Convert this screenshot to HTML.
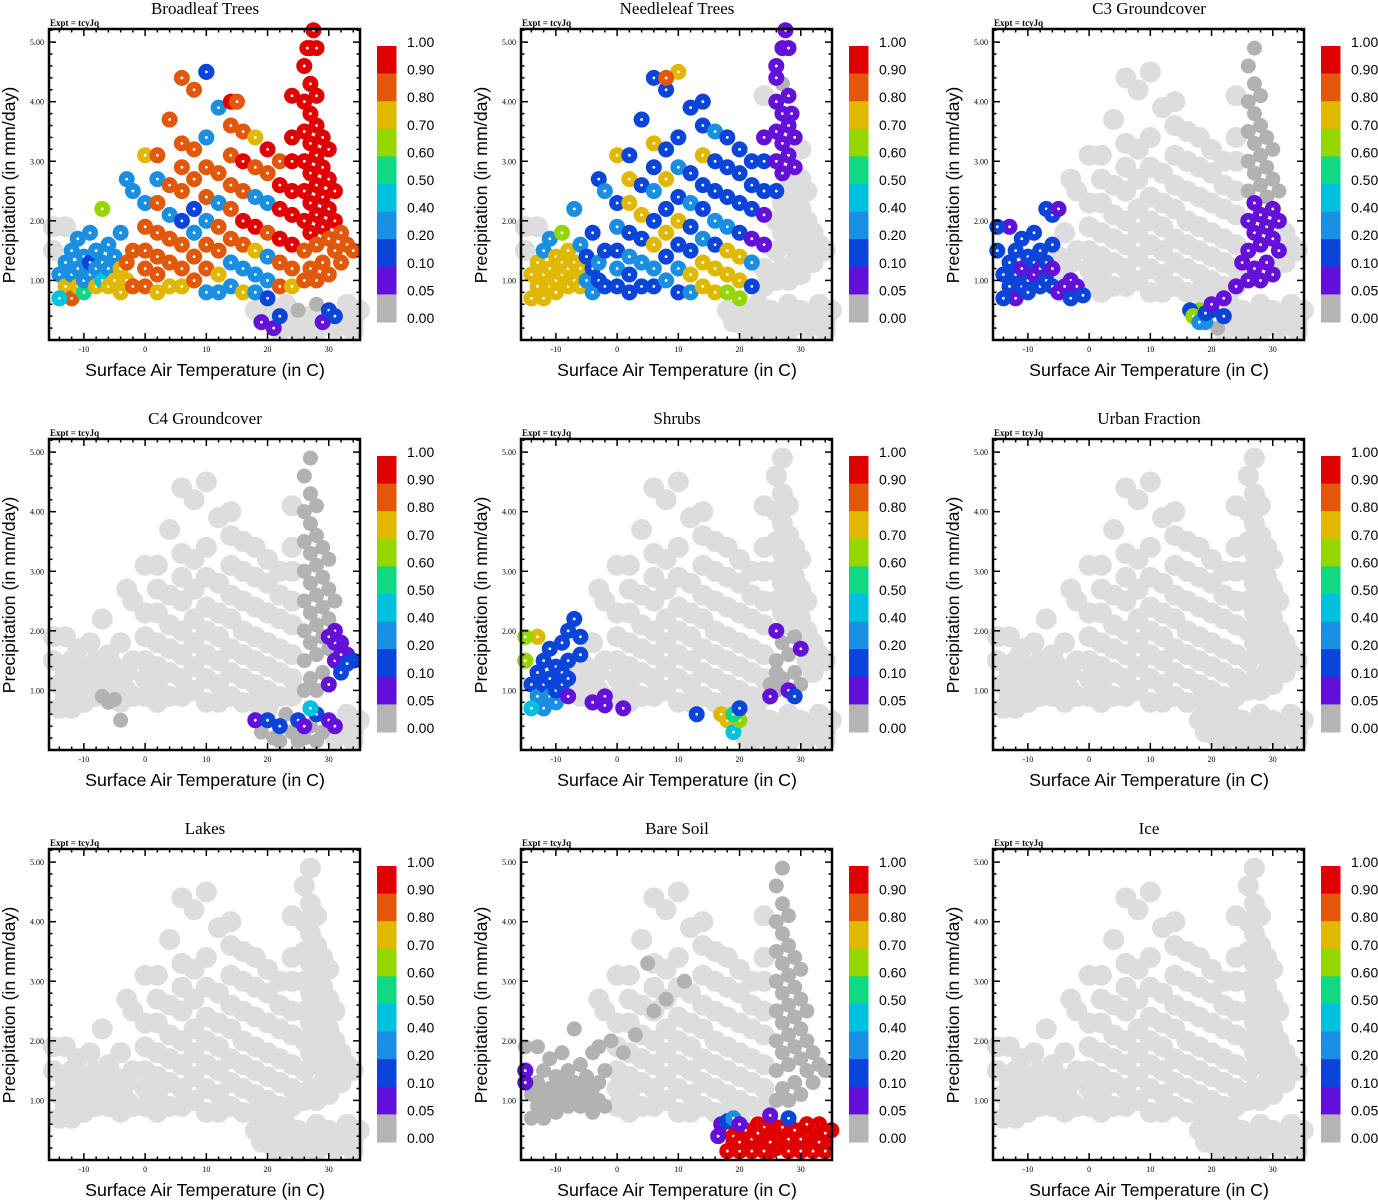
<!DOCTYPE html>
<html><head><meta charset="utf-8"><style>
html,body{margin:0;padding:0;background:#fff;}
svg{display:block;}
.ttl{font-family:"Liberation Serif",serif;font-size:17px;}
.expt{font-family:"Liberation Serif",serif;font-size:9px;font-weight:bold;}
.tick{font-family:"Liberation Serif",serif;font-size:8px;}
.ax{font-family:"Liberation Sans",sans-serif;font-size:17.8px;}
.cb{font-family:"Liberation Sans",sans-serif;font-size:14px;}
</style></head><body>
<svg id="fig" width="1378" height="1200" xmlns="http://www.w3.org/2000/svg"></svg>
<script>
// ---- shared point locations (temperature C, precipitation mm/day) ----
const coldPts=[[-14,1.1],[-13,0.9],[-13,1.3],[-12,0.7],[-12,1.1],[-12,1.5],[-11,0.9],[-11,1.2],[-11,1.7],[-10,0.8],[-10,1.0],[-10,1.4],[-9,1.1],[-9,1.3],[-9,1.8],[-8,0.9],[-8,1.2],[-8,1.5],[-7,1.0],[-7,1.3],[-7,2.2],[-6,0.9],[-6,1.2],[-6,1.6],[-5,1.0],[-5,1.4],[-4,0.8],[-4,1.2],[-4,1.8],[-3,1.0],[-3,1.3],[-3,2.7],[-2,0.9],[-2,1.5],[-2,2.5],[-15,1.5],[-14,0.7],[-13,1.9],[-15,1.9]];
const warmPts=[[0,0.9],[0,1.2],[0,1.5],[0,1.9],[0,2.3],[0,3.1],
[2,0.8],[2,1.1],[2,1.4],[2,1.8],[2,2.3],[2,2.7],[2,3.1],
[4,0.9],[4,1.3],[4,1.7],[4,2.1],[4,2.6],[4,3.7],
[6,0.9],[6,1.2],[6,1.6],[6,2.0],[6,2.5],[6,2.9],[6,3.3],[6,4.4],
[8,1.0],[8,1.4],[8,1.8],[8,2.2],[8,2.7],[8,3.2],[8,4.2],
[10,0.8],[10,1.2],[10,1.6],[10,2.0],[10,2.4],[10,2.9],[10,3.4],[10,4.5],
[12,0.8],[12,1.1],[12,1.5],[12,1.9],[12,2.3],[12,2.8],[12,3.9],
[14,0.9],[14,1.3],[14,1.7],[14,2.2],[14,2.6],[14,3.1],[14,3.6],[14,4.0],
[16,0.8],[16,1.2],[16,1.6],[16,2.0],[16,2.5],[16,3.0],[16,3.5],
[18,0.8],[18,1.1],[18,1.5],[18,1.9],[18,2.4],[18,2.9],[18,3.4],
[20,0.7],[20,1.0],[20,1.4],[20,1.8],[20,2.3],[20,2.8],[20,3.2],
[22,0.9],[22,1.3],[22,1.7],[22,2.2],[22,2.6],[22,3.0],
[24,0.9],[24,1.2],[24,1.6],[24,2.1],[24,2.5],[24,3.0],[24,3.4],[24,4.1]];
const spikePts=[[26,1.0],[26,1.5],[26,2.0],[26,2.5],[26,3.0],[26,3.5],[26,4.0],[26,4.6],[27,1.2],[27,1.8],[27,2.3],[27,2.8],[27,3.3],[27,3.8],[27,4.3],[27,4.9],[28,1.0],[28,1.6],[28,2.1],[28,2.6],[28,3.1],[28,3.6],[28,4.1],[29,1.3],[29,1.9],[29,2.4],[29,2.9],[29,3.4],[30,1.1],[30,1.7],[30,2.2],[30,2.7],[30,3.2],[31,1.5],[31,2.0],[31,2.5],[32,1.3],[32,1.8],[33,1.6],[34,1.5]];
const bottomPts=[[18,0.5],[19,0.3],[20,0.5],[21,0.2],[22,0.4],[23,0.6],[24,0.3],[25,0.5],[26,0.2],[27,0.4],[28,0.6],[29,0.3],[30,0.5],[31,0.2],[32,0.4],[33,0.6],[34,0.3],[35,0.5],[22,0.15],[25,0.15],[28,0.15],[31,0.4],[34,0.15]];

// ---- per-panel fraction values (-1 = no data / light grey) ----
const broadleafCold=[0.3,0.75,0.3,0.85,0.3,0.3,0.75,0.3,0.3,0.5,0.3,0.3,0.3,0.15,0.3,0.75,0.3,0.3,0.45,0.3,0.65,0.75,0.3,0.3,0.75,0.3,0.75,0.75,0.3,0.75,0.85,0.3,0.85,0.85,0.3,-1,0.45,-1,-1];
const broadleafWarm=[0.85,0.85,0.85,0.85,0.3,0.75, 0.75,0.85,0.85,0.85,0.85,0.3,0.85, 0.75,0.85,0.85,0.3,0.85,0.85, 0.75,0.85,0.85,0.15,0.85,0.85,0.85,0.85, 0.85,0.85,0.3,0.15,0.85,0.85,0.85, 0.3,0.85,0.85,0.3,0.85,0.85,0.3,0.15, 0.3,0.75,0.85,0.85,0.3,0.85,0.3, 0.3,0.3,0.85,0.85,0.85,0.85,0.85,0.95, 0.75,0.3,0.85,0.95,0.85,0.95,0.85, 0.3,0.3,0.75,0.95,0.3,0.85,0.75, 0.15,0.3,0.3,0.85,0.3,0.85,0.95, 0.85,0.85,0.95,0.95,0.95,0.85, 0.75,0.85,0.95,0.95,0.95,0.95,0.95,0.95];
const broadleafSpike=[0.85,0.85,0.95,0.95,0.95,0.95,0.95,0.95,0.85,0.95,0.95,0.95,0.95,0.95,0.95,0.95,0.85,0.85,0.95,0.95,0.95,0.95,0.95,0.85,0.95,0.95,0.95,0.95,0.85,0.85,0.95,0.95,0.95,0.85,0.95,0.95,0.85,0.85,0.85,0.85];
const broadleafBottom=[-1,0.07,-1,0.07,0.15,-1,-1,0,-1,-1,0,0.07,0.15,-1,-1,-1,-1,-1,-1,-1,-1,0.15,-1];
const broadleafExtra=[[27.5,5.2,0.95],[28,4.9,0.95],[15,4.0,0.85],[10,4.5,0.15],[26.5,4.9,0.95]];

const needleCold=[0.75,0.75,0.75,0.75,0.75,0.3,0.75,0.75,0.3,0.75,0.75,0.75,0.75,0.75,0.65,0.75,0.75,0.75,0.75,0.75,0.3,0.75,0.75,0.3,0.3,0.15,0.3,0.15,0.15,0.15,0.3,0.15,0.15,0.15,0.3,-1,0.75,-1,-1];
const needleWarm=[0.15,0.3,0.15,0.3,0.15,0.75, 0.15,0.15,0.3,0.15,0.75,0.75,0.15, 0.15,0.3,0.15,0.75,0.15,0.15, 0.15,0.3,0.75,0.15,0.3,0.15,0.75,0.15, 0.3,0.15,0.75,0.15,0.75,0.15,0.15, 0.15,0.3,0.15,0.75,0.15,0.3,0.15,0.75, 0.3,0.75,0.15,0.15,0.3,0.15,0.15, 0.75,0.75,0.3,0.15,0.15,0.75,0.15,0.15, 0.75,0.75,0.15,0.3,0.15,0.15,0.3, 0.65,0.75,0.75,0.3,0.15,0.15,0.15, 0.65,0.75,0.75,0.15,0.15,0.15,0.15, 0.15,0.3,0.07,0.15,0.15,0.15, -1,-1,0.07,0.07,0.15,0.15,0.07,-1];
const needleSpike=[-1,-1,-1,0.15,0.07,0.07,0.07,0.07,-1,-1,-1,0.07,0.07,0.07,0,0.07,-1,-1,-1,-1,0.07,0.07,0.07,-1,-1,-1,0.07,0.07,-1,-1,-1,-1,-1,-1,-1,-1,-1,-1,-1,-1];
const needleBottom=[-1,-1,-1,-1,-1,-1,-1,-1,-1,-1,-1,-1,-1,-1,-1,-1,-1,-1,-1,-1,-1,-1,-1];
const needleExtra=[[27.5,5.2,0.07],[28,4.9,0.07],[8,4.4,0.85],[28.5,3.8,0.07],[26,4.4,0.07]];

const c3Cold=[0.15,0.15,0.15,0.07,0.15,0.15,0.15,0.07,0.15,0.15,0.15,0.15,0.07,0.15,0.15,0.15,0.07,0.15,0.15,0.15,0.15,0.15,0.07,0.15,-1,-1,-1,-1,-1,0.07,-1,-1,0.07,-1,-1,0.15,0.15,0.07,0.15];
const c3Spike=[0.07,0.07,0.07,0,0,0,0,0,0.07,0.07,0.07,0,0,0,0,0,0.07,0.07,0.07,0,0,0,0,0.07,0.07,0,0,0,0.07,0.07,0.07,0,0,0.07,0.07,0,-1,-1,-1,-1];
const c3Bottom=[0.6,0.3,0.15,0,0.15,-1,-1,-1,-1,-1,-1,-1,-1,-1,-1,-1,-1,-1,-1,-1,-1,-1,-1];
const c3Extra=[[-5,0.8,0.07],[-4,0.9,0.07],[-3,0.7,0.15],[-1,0.75,0.15],[16.5,0.5,0.15],[17,0.4,0.6],[18,0.3,0.3],[19,0.45,0.15],[20,0.6,0.07],[22,0.7,0.07],[-6,2.1,0.15],[-5,2.2,0.07],[24,0.9,0.07],[25,1.3,0.07]];

const c4Spike=[0,0,0,0,0,0,0,0,0,0,0,0,0,0,0,0,0,0,0,0,0,0,0,0,0,0,0,0,0.07,0,0,0,0,0.07,0.07,0,0.15,0.07,0.07,0.15];
const c4Bottom=[0.07,0,0.15,0,0.15,0,0,0.15,0,0,0.15,0,0.07,-1,-1,-1,-1,-1,0,0,0,0.07,-1];
const c4Extra=[[-7,0.9,0],[-6,0.8,0],[-5,0.85,0],[31,1.8,0.07],[32,1.6,0.07],[33,1.45,0.15],[30,1.9,0.07],[-4,0.5,0],[27,0.7,0.45],[26,0.4,0.07]];

const shrubCold=[0.15,0.3,0.15,0.3,0.15,0.15,0.3,0.15,0.15,0.3,0.15,0.15,0.15,0.15,0.15,0.07,0.15,0.15,-1,-1,0.15,-1,-1,0.15,-1,-1,0.07,-1,-1,-1,-1,-1,0.07,-1,-1,0.8,0.45,0.7,0.6];
const shrubSpike=[0,0,0.07,-1,-1,-1,-1,-1,0,0,-1,-1,-1,-1,-1,-1,0.07,0,-1,-1,-1,-1,-1,0,0,-1,-1,-1,0,0.07,-1,-1,-1,-1,-1,-1,-1,-1,-1,-1];
const shrubBottom=[0.75,0.45,0.6,-1,-1,-1,-1,-1,-1,-1,-1,-1,-1,-1,-1,-1,-1,-1,-1,-1,-1,-1,-1];
const shrubExtra=[[-4,0.8,0.07],[-2,0.75,0.07],[1,0.7,0.07],[13,0.6,0.15],[17,0.6,0.75],[19,0.6,0.5],[20,0.7,0.15],[25,0.9,0.07],[28,1.0,0.07],[29,0.9,0.15],[-8,2.0,0.15],[-6,1.9,0.15],[-15,1.5,0.6],[26,1.3,0],[25,1.1,0]];

const bareCold=[0,0,0,0,0,0,0,0,0,0,0,0,0,0,0,0,0,0,0,0,0,0,0,0,0,0,0,0,0,0,0,-1,0,0,-1,0.07,0,0,0];
const bareSpike=[0,0,0,0,0,0,0,0,0,0,0,0,0,0,0,0,0,0,0,0,0,0,0,0,0,0,0,0,0,0,0,0,0,0,0,0,0,0,0,0];
const bareBottom=[0.95,0.95,0.95,0.95,0.95,0.95,0.95,0.95,0.95,0.95,0.95,0.95,0.95,0.95,0.95,0.95,0.95,0.95,0.95,0.95,0.95,0.95,0.95];
const bareExtra=[[18,0.15,0.95],[20,0.15,0.95],[22,0.35,0.95],[24,0.15,0.95],[24,0.55,0.95],[26,0.35,0.95],[26,0.55,0.95],[28,0.35,0.95],[30,0.15,0.95],[30,0.35,0.95],[32,0.15,0.95],[32,0.55,0.95],[34,0.45,0.95],[19,0.4,0.95],[21,0.5,0.95],[23,0.45,0.95],[25,0.3,0.95],[27,0.55,0.95],[29,0.5,0.95],[31,0.6,0.95],[33,0.3,0.95],[20,0.3,0.95],[17,0.6,0.07],[18,0.65,0.15],[19,0.7,0.3],[20,0.6,0.07],[16.5,0.4,0.07],[25,0.75,0.07],[28,0.7,0.15],[-15,1.5,0.07],[-15,1.3,0.07],[1,1.8,0],[3,2.1,0],[6,2.5,0],[8,2.7,0],[11,3.0,0],[5,3.3,0],[-1,2.0,0],[-3,1.9,0]];

const panelTitles=["Broadleaf Trees","Needleleaf Trees","C3 Groundcover","C4 Groundcover","Shrubs","Urban Fraction","Lakes","Bare Soil","Ice"];
const panelCold=[broadleafCold,needleCold,c3Cold,null,shrubCold,null,null,bareCold,null];
const panelWarm=[broadleafWarm,needleWarm,null,null,null,null,null,null,null];
const panelSpike=[broadleafSpike,needleSpike,c3Spike,c4Spike,shrubSpike,null,null,bareSpike,null];
const panelBottom=[broadleafBottom,needleBottom,c3Bottom,c4Bottom,shrubBottom,null,null,bareBottom,null];
const panelExtra=[broadleafExtra,needleExtra,c3Extra,c4Extra,shrubExtra,[],[],bareExtra,[]];

const xTicks=[-10,0,10,20,30];
const yTicks=[1,2,3,4,5];
const yTickLabels=["1.00","2.00","3.00","4.00","5.00"];
const cbLabels=["1.00","0.90","0.80","0.70","0.60","0.50","0.40","0.20","0.10","0.05","0.00"];
const cbBounds=[1.0,0.9,0.8,0.7,0.6,0.5,0.4,0.2,0.1,0.05,0.0];
const cbColors=["#e10000","#e2580a","#e0b800","#96d600","#12d884","#00c0e0","#1a8ee0","#0a44d8","#6310d8","#b4b4b4"];

const NS="http://www.w3.org/2000/svg";
const svg=document.getElementById('fig');
function mk(tag,attrs,parent){const e=document.createElementNS(NS,tag);for(const k in attrs)e.setAttribute(k,attrs[k]);(parent||svg).appendChild(e);return e;}
function colorFor(v){for(let i=0;i<10;i++){if(v>=cbBounds[i+1])return cbColors[i];}return cbColors[9];}

const X0=49,X1=360,Y0=29,Y1=340;
const TMIN=-15.7,TMAX=35.1,PMIN=0,PMAX=5.22;
function sx(t){return X0+(t-TMIN)/(TMAX-TMIN)*(X1-X0);}
function sy(p){return Y1-(p-PMIN)/(PMAX-PMIN)*(Y1-Y0);}

for(let k=0;k<9;k++){
  const ox=(k%3)*472, oy=Math.floor(k/3)*410;
  const g=mk('g',{transform:`translate(${ox},${oy})`});
  
  
  const t=mk('text',{x:205,y:14,'text-anchor':'middle',class:'ttl'},g);t.textContent=panelTitles[k];
  
  
  const ex=mk('text',{x:50,y:26,class:'expt'},g);ex.textContent="Expt = tcyJq";
  
  
  const pts=[];
  const groups=[[coldPts,panelCold[k]],[warmPts,panelWarm[k]],[spikePts,panelSpike[k]],[bottomPts,panelBottom[k]]];
  groups.forEach(([P,V])=>P.forEach((p,i)=>pts.push([p[0],p[1],V?V[i]:-1])));
  panelExtra[k].forEach(e=>pts.push(e));
  const pg=mk('g',{},g);
  
  
  pts.filter(p=>p[2]<0).forEach(p=>{const c=mk('circle',{cx:sx(p[0]),cy:sy(p[1]),r:10.5,fill:'#dddddd'},pg);
    
    });
  pts.filter(p=>p[2]>=0&&p[2]<0.05).forEach(p=>{const c=mk('circle',{cx:sx(p[0]),cy:sy(p[1]),r:7.5,fill:'#b2b2b2'},pg);
    
    });
  pts.filter(p=>p[2]>=0.05).forEach(p=>{const c=mk('circle',{cx:sx(p[0]),cy:sy(p[1]),r:8,fill:colorFor(p[2])},pg);
    
    
    mk('circle',{cx:sx(p[0]),cy:sy(p[1]),r:1.4,fill:'#fff'},pg);});
  const box=mk('rect',{x:X0,y:Y0,width:X1-X0,height:Y1-Y0,fill:'none',stroke:'#000','stroke-width':2.5},g);
  
  
  for(let v=-14;v<=34;v+=2){const x=sx(v),L=(v%10===0)?7:3.5;
    mk('line',{x1:x,y1:Y1,x2:x,y2:Y1-L,stroke:'#000','stroke-width':1.5},g);
    mk('line',{x1:x,y1:Y0,x2:x,y2:Y0+L,stroke:'#000','stroke-width':1.5},g);}
  for(let i=1;i<=26;i++){const v=i*0.2,y=sy(v),L=(Math.abs(v-Math.round(v))<1e-6)?7:3.5;if(y<Y0+1)continue;
    mk('line',{x1:X0,y1:y,x2:X0+L,y2:y,stroke:'#000','stroke-width':1.5},g);
    mk('line',{x1:X1,y1:y,x2:X1-L,y2:y,stroke:'#000','stroke-width':1.5},g);}
  xTicks.forEach(v=>{const tt=mk('text',{x:sx(v),y:352,'text-anchor':'middle',class:'tick'},g);tt.textContent=String(v);
    
    });
  yTicks.forEach((v,i)=>{const tt=mk('text',{x:44,y:sy(v)+3,'text-anchor':'end',class:'tick'},g);tt.textContent=yTickLabels[i];
    
    });
  const xt=mk('text',{x:205,y:376,'text-anchor':'middle',class:'ax'},g);xt.textContent="Surface Air Temperature (in C)";
  
  
  const yt=mk('text',{x:0,y:0,'text-anchor':'middle',class:'ax',transform:'translate(15,185) rotate(-90)'},g);yt.textContent="Precipitation (in mm/day)";
  
  
  const cb=mk('g',{},g);
  
  
  const segH=27.6;
  cbColors.forEach((c,i)=>{mk('rect',{x:377,y:46+i*segH,width:19.5,height:segH+0.5,fill:c},cb);});
  cbLabels.forEach((l,i)=>{const tt=mk('text',{x:407,y:47+i*segH,class:'cb'},cb);tt.textContent=l;
    
    });
}
</script>
</body></html>
